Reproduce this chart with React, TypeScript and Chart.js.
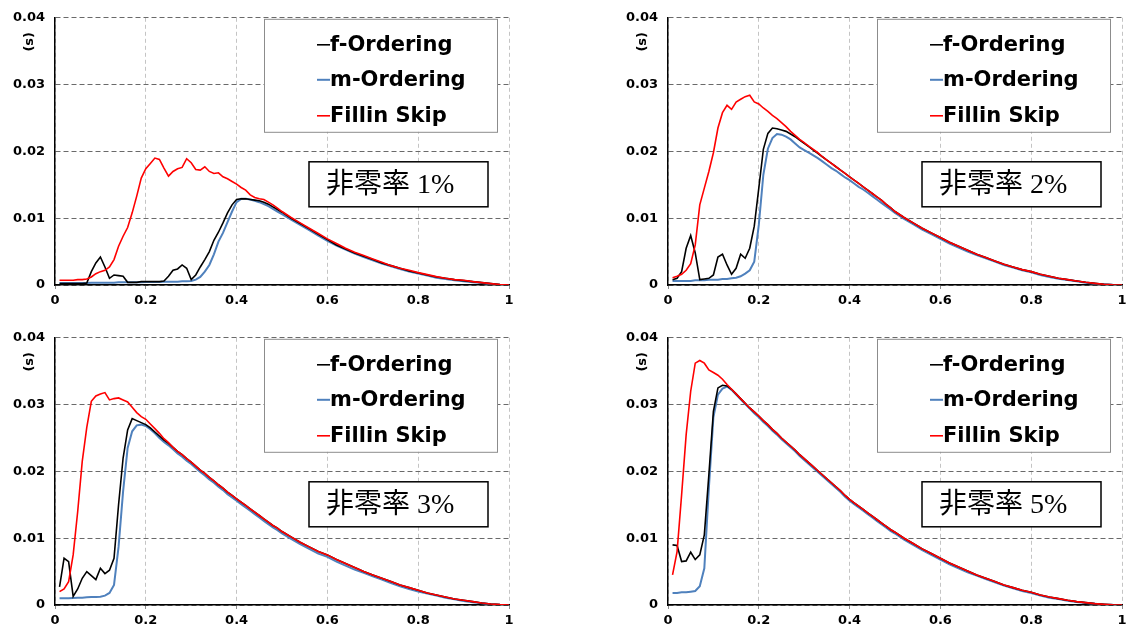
import React, { useEffect, useRef } from 'react';
import { Chart, registerables } from 'chart.js';

Chart.register(...registerables);

// Shared x grid (relative position 0..1)
const xs = [
  0.01, 0.02, 0.03, 0.04, 0.05, 0.06, 0.07, 0.08, 0.09, 0.10,
  0.11, 0.12, 0.13, 0.14, 0.15, 0.16, 0.17, 0.18, 0.19, 0.20,
  0.21, 0.22, 0.23, 0.24, 0.25, 0.26, 0.27, 0.28, 0.29, 0.30,
  0.31, 0.32, 0.33, 0.34, 0.35, 0.36, 0.37, 0.38, 0.39, 0.40,
  0.41, 0.42, 0.43, 0.44, 0.45, 0.46, 0.47, 0.48, 0.49, 0.50,
  0.52, 0.54, 0.56, 0.58, 0.60, 0.62, 0.64, 0.66, 0.68, 0.70,
  0.72, 0.74, 0.76, 0.78, 0.80, 0.82, 0.84, 0.86, 0.88, 0.90,
  0.92, 0.94, 0.96, 0.98, 1.00,
];

const xTickLabels = ['0', '0.2', '0.4', '0.6', '0.8', '1'];
const yTickLabels = ['0', '0.01', '0.02', '0.03', '0.04'];
const seriesNames = ['f-Ordering', 'm-Ordering', 'Fillin Skip'];
const seriesColors = ['#000000', '#4F81BD', '#FF0000'];
const panelTitles = ['非零率 1%', '非零率 2%', '非零率 3%', '非零率 5%'];
const unitLabel = '(s)';

// values in milliseconds
// 非零率 1%
const f1 = [
  0.2, 0.2, 0.2, 0.2, 0.2, 0.2, 0.3, 2.0, 3.3, 4.2,
  2.7, 1.0, 1.5, 1.4, 1.3, 0.4, 0.4, 0.4, 0.5, 0.5,
  0.5, 0.5, 0.5, 0.6, 1.3, 2.2, 2.4, 3.0, 2.5, 0.8,
  1.5, 2.7, 3.8, 5.0, 6.7, 7.9, 9.3, 10.8, 12.0, 12.8,
  12.9, 12.9, 12.8, 12.7, 12.6, 12.4, 12.1, 11.7, 11.3, 10.9,
  10.0, 9.2, 8.4, 7.6, 6.8, 6.0, 5.4, 4.8, 4.3, 3.8,
  3.3, 2.9, 2.5, 2.1, 1.8, 1.5, 1.2, 1.0, 0.8, 0.65,
  0.5, 0.35, 0.2, 0.08, 0.0,
];
const m1 = [
  0.3, 0.3, 0.3, 0.3, 0.3, 0.3, 0.3, 0.35, 0.35, 0.35,
  0.35, 0.35, 0.35, 0.4, 0.4, 0.4, 0.4, 0.4, 0.4, 0.45,
  0.45, 0.45, 0.45, 0.5, 0.5, 0.5, 0.5, 0.55, 0.55, 0.6,
  0.8, 1.2, 2.0, 3.0, 4.6, 6.5, 7.8, 9.4, 11.0, 12.4,
  12.9, 12.9, 12.8, 12.6, 12.4, 12.1, 11.8, 11.4, 11.0, 10.6,
  9.8, 9.0, 8.2, 7.4, 6.6, 5.9, 5.3, 4.7, 4.2, 3.7,
  3.2, 2.8, 2.4, 2.0, 1.7, 1.4, 1.1, 0.9, 0.7, 0.55,
  0.4, 0.3, 0.15, 0.05, 0.0,
];
const s1 = [
  0.7, 0.7, 0.7, 0.7, 0.8, 0.8, 0.9, 1.2, 1.7, 2.0,
  2.2, 2.7, 3.8, 5.8, 7.3, 8.6, 10.8, 13.3, 16.0, 17.4,
  18.2, 19.0, 18.8, 17.5, 16.3, 17.0, 17.4, 17.6, 18.9, 18.3,
  17.3, 17.2, 17.7, 17.0, 16.7, 16.8, 16.2, 15.9, 15.5, 15.1,
  14.6, 14.2, 13.5, 13.1, 12.9, 12.8, 12.4, 12.0, 11.5, 11.0,
  10.1, 9.3, 8.5, 7.7, 6.9, 6.2, 5.5, 4.9, 4.4, 3.9,
  3.4, 2.9, 2.5, 2.2, 1.85, 1.55, 1.25, 1.0, 0.8, 0.7,
  0.5, 0.35, 0.2, 0.08, 0.0,
];

// 非零率 2%
const f2 = [
  0.8, 1.0, 2.0, 5.5, 7.4, 4.8, 0.8, 0.9, 1.0, 1.5,
  4.2, 4.6, 3.0, 1.6, 2.5, 4.6, 4.0, 5.5, 8.8, 14.5,
  20.3, 22.7, 23.5, 23.4, 23.2, 23.0, 22.6, 22.2, 21.7, 21.2,
  20.7, 20.2, 19.7, 19.2, 18.7, 18.2, 17.7, 17.2, 16.7, 16.2,
  15.7, 15.2, 14.7, 14.2, 13.7, 13.2, 12.7, 12.1, 11.6, 11.0,
  10.1, 9.3, 8.5, 7.8, 7.1, 6.4, 5.8, 5.2, 4.6, 4.1,
  3.6, 3.1, 2.7, 2.3, 2.0, 1.6, 1.3, 1.0, 0.8, 0.6,
  0.4, 0.25, 0.12, 0.04, 0.0,
];
const m2 = [
  0.6, 0.6, 0.6, 0.6, 0.6, 0.7, 0.7, 0.7, 0.8, 0.8,
  0.8, 0.9, 0.9, 1.0, 1.1, 1.3, 1.7, 2.2, 3.5, 9.0,
  16.5, 20.4, 22.0, 22.6, 22.5, 22.2, 21.8, 21.2, 20.6, 20.2,
  19.8, 19.4, 19.0, 18.5, 18.0, 17.5, 17.1, 16.6, 16.1, 15.7,
  15.2, 14.7, 14.3, 13.8, 13.3, 12.8, 12.3, 11.8, 11.3, 10.8,
  9.9, 9.1, 8.3, 7.6, 6.9, 6.2, 5.6, 5.0, 4.5, 4.0,
  3.5, 3.0, 2.6, 2.2, 1.9, 1.5, 1.2, 0.95, 0.75, 0.55,
  0.35, 0.2, 0.1, 0.03, 0.0,
];
const s2 = [
  1.1, 1.3, 1.6, 2.2, 3.2, 6.0, 12.0, 14.5, 17.0, 19.8,
  23.5, 25.8, 26.9, 26.3, 27.4, 27.8, 28.2, 28.4, 27.4, 27.1,
  26.5, 26.0, 25.4, 24.9, 24.3, 23.7, 23.0, 22.4, 21.8, 21.3,
  20.8, 20.3, 19.8, 19.2, 18.7, 18.2, 17.7, 17.2, 16.7, 16.2,
  15.7, 15.2, 14.7, 14.2, 13.7, 13.2, 12.7, 12.1, 11.6, 11.0,
  10.1, 9.3, 8.5, 7.8, 7.1, 6.4, 5.8, 5.2, 4.6, 4.1,
  3.6, 3.1, 2.7, 2.3, 2.0, 1.6, 1.3, 1.0, 0.8, 0.6,
  0.4, 0.25, 0.12, 0.04, 0.0,
];

// 非零率 3%
const f3 = [
  2.7, 7.0, 6.5, 1.3, 2.4, 4.0, 5.0, 4.4, 3.8, 5.5,
  4.7, 5.2, 7.0, 15.0, 22.0, 26.2, 27.9, 27.6, 27.3, 27.0,
  26.5, 25.9, 25.3, 24.7, 24.2, 23.6, 23.0, 22.5, 21.9, 21.4,
  20.8, 20.2, 19.7, 19.1, 18.6, 18.0, 17.5, 16.9, 16.4, 15.9,
  15.4, 14.9, 14.4, 13.9, 13.4, 12.9, 12.4, 11.9, 11.5, 11.0,
  10.2, 9.4, 8.7, 8.0, 7.5, 6.8, 6.2, 5.6, 5.0, 4.5,
  4.0, 3.5, 3.0, 2.6, 2.2, 1.8, 1.5, 1.2, 0.9, 0.7,
  0.5, 0.3, 0.15, 0.05, 0.0,
];
const m3 = [
  1.0, 1.0, 1.0, 1.05, 1.1, 1.1, 1.15, 1.2, 1.2, 1.25,
  1.4, 1.8, 3.0, 8.7, 17.0, 23.5, 26.0, 26.9, 27.0, 26.8,
  26.3, 25.7, 25.0, 24.4, 23.9, 23.3, 22.7, 22.2, 21.6, 21.1,
  20.5, 19.9, 19.4, 18.8, 18.3, 17.7, 17.2, 16.6, 16.1, 15.6,
  15.1, 14.6, 14.1, 13.6, 13.1, 12.6, 12.1, 11.6, 11.2, 10.7,
  9.9, 9.1, 8.4, 7.7, 7.2, 6.5, 5.9, 5.3, 4.8, 4.3,
  3.8, 3.3, 2.8, 2.4, 2.0, 1.7, 1.4, 1.1, 0.85, 0.6,
  0.4, 0.25, 0.12, 0.04, 0.0,
];
const s3 = [
  2.0, 2.4, 3.5, 7.5, 14.0, 21.5, 26.6, 30.5, 31.3, 31.6,
  31.8, 30.7, 30.9, 31.0, 30.7, 30.4, 29.6, 28.8, 28.2, 27.8,
  27.1, 26.4, 25.7, 24.9, 24.3, 23.6, 23.0, 22.5, 21.9, 21.4,
  20.8, 20.2, 19.7, 19.1, 18.6, 18.0, 17.5, 16.9, 16.4, 15.9,
  15.4, 14.9, 14.4, 13.9, 13.4, 12.9, 12.4, 11.9, 11.5, 11.0,
  10.2, 9.4, 8.7, 8.0, 7.5, 6.8, 6.2, 5.6, 5.0, 4.5,
  4.0, 3.5, 3.0, 2.6, 2.2, 1.8, 1.5, 1.2, 0.9, 0.7,
  0.5, 0.3, 0.15, 0.05, 0.0,
];

// 非零率 5%
const f4 = [
  9.0, 8.9, 6.5, 6.6, 7.9, 6.8, 7.5, 10.5, 19.5, 29.0,
  32.5, 32.9, 32.8, 32.3, 31.6, 30.9, 30.2, 29.5, 28.9, 28.3,
  27.6, 27.0, 26.3, 25.7, 25.0, 24.4, 23.8, 23.2, 22.5, 21.9,
  21.3, 20.7, 20.1, 19.5, 18.9, 18.3, 17.7, 17.1, 16.4, 15.8,
  15.3, 14.8, 14.3, 13.8, 13.3, 12.8, 12.3, 11.8, 11.3, 10.9,
  10.0, 9.2, 8.4, 7.7, 7.0, 6.3, 5.7, 5.1, 4.5, 4.0,
  3.5, 3.0, 2.6, 2.2, 1.9, 1.5, 1.2, 0.95, 0.7, 0.5,
  0.35, 0.2, 0.1, 0.03, 0.0,
];
const m4 = [
  1.8, 1.8, 1.9, 1.9, 2.0, 2.1, 2.8, 5.5, 17.5, 28.1,
  31.5, 32.4, 32.7, 32.2, 31.5, 30.8, 30.1, 29.4, 28.7, 28.1,
  27.4, 26.8, 26.1, 25.5, 24.8, 24.2, 23.6, 23.0, 22.3, 21.7,
  21.1, 20.5, 19.9, 19.3, 18.7, 18.1, 17.5, 16.9, 16.2, 15.6,
  15.1, 14.6, 14.1, 13.6, 13.1, 12.6, 12.1, 11.6, 11.1, 10.7,
  9.8, 9.0, 8.2, 7.5, 6.8, 6.1, 5.5, 4.9, 4.4, 3.9,
  3.4, 2.9, 2.5, 2.1, 1.8, 1.4, 1.1, 0.9, 0.65, 0.45,
  0.3, 0.18, 0.08, 0.02, 0.0,
];
const s4 = [
  4.5, 8.0, 16.5, 25.5, 32.0, 36.2, 36.6, 36.2, 35.2, 34.8,
  34.4, 33.8, 33.0, 32.3, 31.6, 30.9, 30.2, 29.5, 28.9, 28.3,
  27.6, 27.0, 26.3, 25.7, 25.0, 24.4, 23.8, 23.2, 22.5, 21.9,
  21.3, 20.7, 20.1, 19.5, 18.9, 18.3, 17.7, 17.1, 16.4, 15.8,
  15.3, 14.8, 14.3, 13.8, 13.3, 12.8, 12.3, 11.8, 11.3, 10.9,
  10.0, 9.2, 8.4, 7.7, 7.0, 6.3, 5.7, 5.1, 4.5, 4.0,
  3.5, 3.0, 2.6, 2.2, 1.9, 1.5, 1.2, 0.95, 0.7, 0.5,
  0.35, 0.2, 0.1, 0.03, 0.0,
];

const panelSeries = [
  [f1, m1, s1],
  [f2, m2, s2],
  [f3, m3, s3],
  [f4, m4, s4],
];

// layout (page pixels)
const CW = 520;
const CH = 316;
const panelPos = [
  { left: 0, top: 0 },
  { left: 613, top: 0 },
  { left: 0, top: 320 },
  { left: 613, top: 320 },
];

const lineWidths = [1.6, 2, 1.6];
const drawOrder = [1, 2, 0];

const overlayPlugin = {
  id: 'overlay',
  afterDraw(chart: any, _args: any, opts: any) {
    const { ctx, chartArea: a } = chart;
    // unit label
    ctx.save();
    ctx.translate(a.left - 25, a.top + 24);
    ctx.rotate(-Math.PI / 2);
    ctx.font = 'bold 13px "DejaVu Sans"';
    ctx.fillStyle = '#000';
    ctx.textAlign = 'center';
    ctx.textBaseline = 'middle';
    ctx.fillText(unitLabel, 0, 0);
    ctx.restore();

    // legend box
    const lx = a.left + 209;
    const ly = a.top + 1;
    const lw = 233;
    const lh = 113;
    ctx.save();
    ctx.fillStyle = '#ffffff';
    ctx.fillRect(lx, ly, lw, lh);
    ctx.strokeStyle = '#8c8c8c';
    ctx.lineWidth = 1;
    ctx.strokeRect(lx + 0.5, ly + 0.5, lw, lh);
    const rows = [26, 61, 97];
    chart.data.datasets.forEach((ds: any, i: number) => {
      const y = ly + rows[i];
      ctx.strokeStyle = ds.borderColor;
      ctx.lineWidth = ds.borderWidth;
      ctx.beginPath();
      ctx.moveTo(lx + 53, y);
      ctx.lineTo(lx + 66, y);
      ctx.stroke();
      ctx.fillStyle = '#000';
      ctx.font = 'bold 21px "DejaVu Sans"';
      ctx.textAlign = 'left';
      ctx.textBaseline = 'middle';
      ctx.fillText(ds.label, lx + 66, y + 1);
    });
    ctx.restore();

    // title box
    const tx = a.left + 254;
    const ty = a.top + 144;
    const tw = 179;
    const th = 45;
    ctx.save();
    ctx.fillStyle = '#ffffff';
    ctx.fillRect(tx, ty, tw, th);
    ctx.strokeStyle = '#000';
    ctx.lineWidth = 1.5;
    ctx.strokeRect(tx, ty, tw, th);
    ctx.fillStyle = '#000';
    ctx.font = '28px "Liberation Serif", "Noto Sans CJK JP"';
    ctx.textAlign = 'left';
    ctx.textBaseline = 'middle';
    ctx.fillText(opts.title, tx + 17, ty + 24);
    ctx.restore();
  },
};

function Panel({ index }: { index: number }) {
  const ref = useRef<HTMLCanvasElement | null>(null);
  useEffect(() => {
    const canvas = ref.current;
    if (!canvas) return;
    const series = panelSeries[index];
    const chart = new Chart(canvas, {
      type: 'line',
      data: {
        datasets: series.map((vals, i) => ({
          label: seriesNames[i],
          data: xs.map((x, k) => ({ x, y: vals[k] / 1000 })),
          borderColor: seriesColors[i],
          backgroundColor: seriesColors[i],
          borderWidth: lineWidths[i],
          pointRadius: 0,
          tension: 0,
          fill: false,
          order: drawOrder[i],
        })),
      },
      options: {
        responsive: false,
        animation: false,
        devicePixelRatio: 1,
        layout: { padding: { top: 16, right: 11, left: 0, bottom: 0 } },
        plugins: {
          legend: { display: false },
          tooltip: { enabled: false },
          overlay: { title: panelTitles[index] },
        } as any,
        scales: {
          x: {
            type: 'linear',
            min: 0,
            max: 1,
            afterFit: (s: any) => {
              s.height = 31;
            },
            grid: {
              color: '#c4c4c4',
              lineWidth: 1,
              drawTicks: true,
              tickLength: 4,
              tickColor: '#8c8c8c',
              tickBorderDash: [],
            },
            border: { display: true, color: '#000', width: 1.5, dash: [4, 3] },
            ticks: {
              stepSize: 0.2,
              autoSkip: false,
              maxRotation: 0,
              padding: 4,
              color: '#000',
              font: { family: '"DejaVu Sans"', size: 13, weight: 'bold' },
              callback: (_v: any, i: number) => xTickLabels[i],
            },
          },
          y: {
            type: 'linear',
            min: 0,
            max: 0.04,
            afterFit: (s: any) => {
              s.width = 55;
            },
            grid: {
              color: '#6a6a6a',
              lineWidth: 1,
              drawTicks: false,
            },
            border: { display: true, color: '#000', width: 1.5, dash: [5, 3] },
            ticks: {
              stepSize: 0.01,
              padding: 10,
              color: '#000',
              font: { family: '"DejaVu Sans"', size: 13, weight: 'bold' },
              callback: (_v: any, i: number) => yTickLabels[i],
            },
          },
        },
      } as any,
      plugins: [overlayPlugin],
    });
    return () => chart.destroy();
  }, [index]);
  const p = panelPos[index];
  return (
    <canvas
      ref={ref}
      width={CW}
      height={CH}
      style={{ position: 'absolute', left: p.left, top: p.top, width: CW, height: CH }}
    />
  );
}

export default function App() {
  return (
    <div
      style={{
        position: 'absolute',
        left: 0,
        top: 0,
        width: 1134,
        height: 637,
        overflow: 'hidden',
        background: '#fff',
      }}
    >
      {[0, 1, 2, 3].map((i) => (
        <Panel key={i} index={i} />
      ))}
    </div>
  );
}
